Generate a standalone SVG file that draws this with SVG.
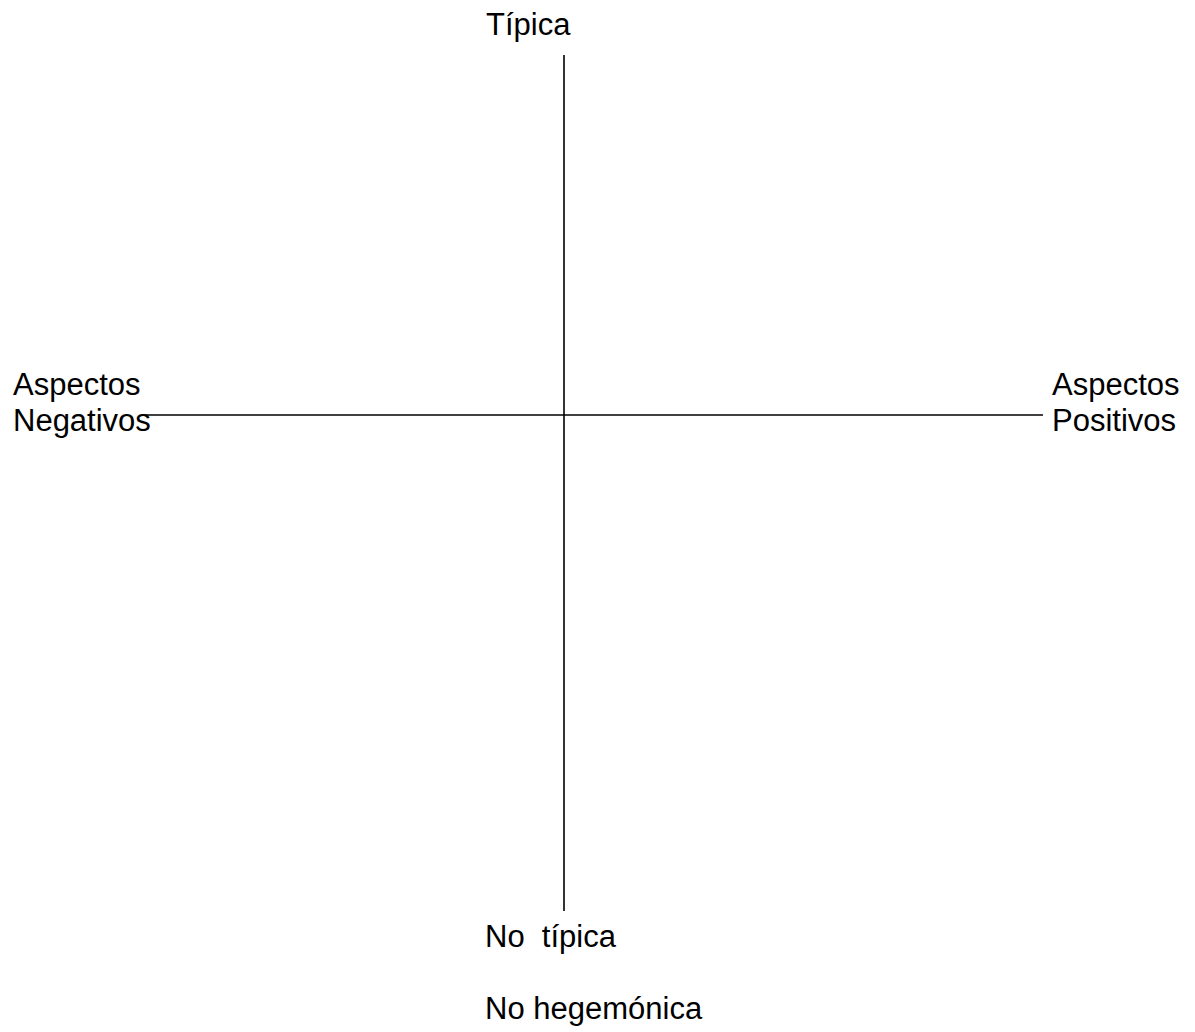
<svg xmlns="http://www.w3.org/2000/svg" width="1195" height="1032" viewBox="0 0 1195 1032">
<style>
.t{font-family:"Liberation Sans",Arial,sans-serif;font-size:31px;fill:#000}
.ax{stroke:#000;stroke-width:1.6;fill:none}
</style>
<rect width="1195" height="1032" fill="#fff"/>
<g id="connectors">
<line class="ax" x1="564" y1="55" x2="564" y2="911"/>
<line class="ax" x1="142" y1="415" x2="1043" y2="415"/>
</g>
<g id="top"><text class="t" x="486" y="35">Típica</text></g>
<g id="left"><text class="t" x="13" y="395">Aspectos</text><text class="t" x="13" y="431">Negativos</text></g>
<g id="right"><text class="t" x="1052" y="395">Aspectos</text><text class="t" x="1052" y="431">Positivos</text></g>
<g id="bottom"><text class="t" x="485" y="947" xml:space="preserve">No  típica</text><text class="t" x="485" y="1019">No hegemónica</text></g>
</svg>
